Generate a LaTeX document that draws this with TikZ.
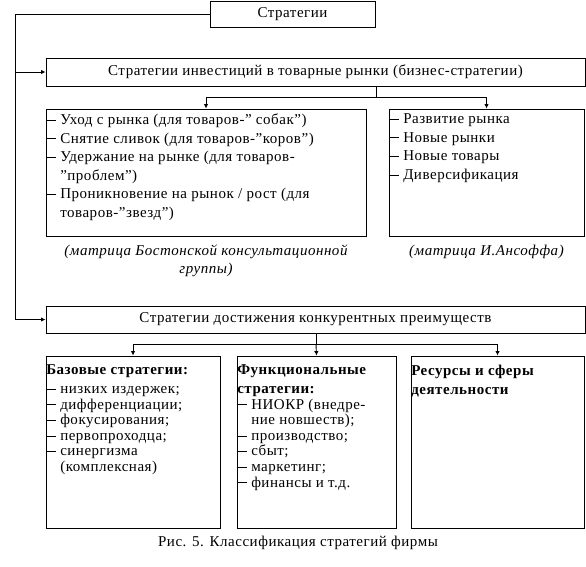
\documentclass[tikz,border=0pt]{standalone}
\usepackage{fontspec}
\setmainfont{Liberation Serif}[LetterSpace=3.5]
\usetikzlibrary{arrows.meta,positioning}

\newcommand{\dashitem}[1]{\makebox[14pt][l]{\rule[4pt]{10pt}{0.8pt}}#1}
\newcommand{\contline}[1]{\hspace*{14pt}#1}

\tikzset{
  box/.style={draw, line width=0.9pt, inner sep=0pt},
  lst/.style={anchor=north west, align=left, inner sep=0pt, font=\fontsize{15}{18.6}\selectfont},
  lowlst/.style={lst, font=\fontsize{15}{15.6}\selectfont},
  note/.style={align=center, inner sep=0pt, font=\fontsize{15}{18}\selectfont\itshape},
  arr/.style={-{Latex[length=4.5pt,width=4.5pt]}, line width=0.9pt},
  link/.style={line width=0.9pt},
}

\begin{document}
\begin{tikzpicture}[x=1pt, y=-1pt, font=\fontsize{15}{18}\selectfont]
\useasboundingbox (0,0) rectangle (586,566);

% top level
\node[box, minimum width=165pt, minimum height=26pt] (strat) at (292.5,14) {Стратегии};
\node[box, minimum width=539pt, minimum height=28pt] (invest) at (315.5,72)
  {Стратегии инвестиций в товарные рынки (бизнес-стратегии)};
\node[box, minimum width=539pt, minimum height=27pt] (compet) at (315.5,319.5)
  {Стратегии достижения конкурентных преимуществ};

% investment strategies
\node[box, minimum width=320pt, minimum height=127pt] (bcg) at (206,172.5) {};
\node[box, minimum width=195pt, minimum height=127pt] (ansoff) at (486.5,172.5) {};
\node[lst] (bcgtxt) at ([xshift=0.5pt,yshift=-5pt]bcg.north west)
  {\dashitem{Уход с рынка (для товаров-” собак”)}\\
   \dashitem{Снятие сливок (для товаров-”коров”)}\\
   \dashitem{Удержание на рынке (для товаров-}\\
   \contline{”проблем”)}\\
   \dashitem{Проникновение на рынок / рост (для}\\
   \contline{товаров-”звезд”)}};
\node[lst] (ansofftxt) at ([xshift=0.5pt,yshift=-5pt]ansoff.north west)
  {\dashitem{Развитие рынка}\\
   \dashitem{Новые рынки}\\
   \dashitem{Новые товары}\\
   \dashitem{Диверсификация}};
\node[note] (bcgnote) at (206,261)
  {(матрица Бостонской консультационной\\группы)};
\node[note] (ansoffnote) at (486.5,252) {(матрица И.Ансоффа)};

% competitive strategies
\node[box, minimum width=174pt, minimum height=172pt] (base) at (133,442) {};
\node[box, minimum width=159pt, minimum height=172pt] (func) at (316.5,442) {};
\node[box, minimum width=173pt, minimum height=172pt] (res) at (497.5,442) {};
\node[lowlst] (basetxt) at ([xshift=0.5pt,yshift=-9pt]base.north west)
  {\textbf{Базовые стратегии:}\\[3.4pt]
   \dashitem{низких издержек;}\\
   \dashitem{дифференциации;}\\
   \dashitem{фокусирования;}\\
   \dashitem{первопроходца;}\\
   \dashitem{синергизма}\\
   \contline{(комплексная)}};
\node[lowlst] (functxt) at ([xshift=0.5pt,yshift=-9pt]func.north west)
  {\textbf{Функциональные}\\[3.4pt]
   \textbf{стратегии:}\\
   \dashitem{НИОКР (внедре-}\\
   \contline{ние новшеств);}\\
   \dashitem{производство;}\\
   \dashitem{сбыт;}\\
   \dashitem{маркетинг;}\\
   \dashitem{финансы и т.д.}};
\node[lowlst] (restxt) at ([xshift=0.5pt,yshift=-9pt]res.north west)
  {\textbf{Ресурсы и сферы}\\[3.4pt]
   \textbf{деятельности}};

\node (caption) at (298,543) {Рис. 5. Классификация стратегий фирмы};

% connectors
\coordinate (rail) at (15,0);
\coordinate (split1) at (376,97);
\coordinate (split2) at (316,344);
\draw[arr] (strat.west) -| (rail |- compet.west) -- (compet.west);
\draw[arr] (rail |- invest.west) -- (invest.west);
\draw[link] (split1 |- invest.south) -- (split1);
\draw[arr] (split1) -| (bcg.north);
\draw[arr] (split1) -| (ansoff.north);
\draw[link] (split2 |- compet.south) -- (split2);
\draw[arr] (split2) -| (base.north);
\draw[arr] (split2) -- (func.north);
\draw[arr] (split2) -| (res.north);
\end{tikzpicture}
\end{document}
